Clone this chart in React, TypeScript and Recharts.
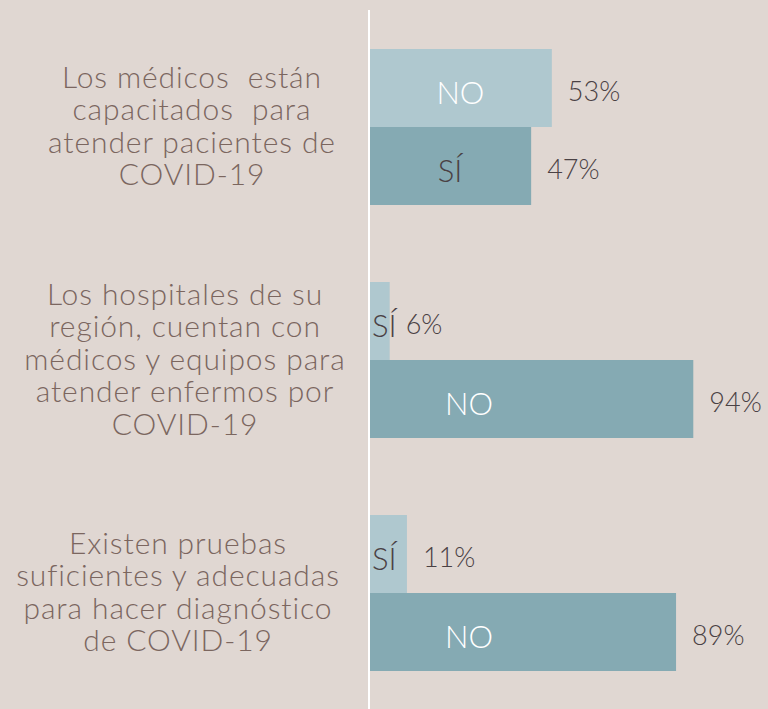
import React from "react";
import { BarChart, Bar, XAxis, YAxis, LabelList } from "recharts";

const categoryLines: string[][] = [
  ["Los médicos  están", "capacitados  para", "atender pacientes de", "COVID-19"],
  ["Los hospitales de su", "región, cuentan con", "médicos y equipos para", "atender enfermos por", "COVID-19"],
  ["Existen pruebas", "suficientes y adecuadas", "para hacer diagnóstico", "de COVID-19"],
];
const categories = ["medicos", "hospitales", "pruebas"];
const topValues = [53, 6, 11];
const bottomValues = [47, 94, 89];
const topNames = ["NO", "SÍ", "SÍ"];
const bottomNames = ["SÍ", "NO", "NO"];

const data = categories.map((c, i) => ({
  cat: c,
  top: topValues[i],
  bottom: bottomValues[i],
  topName: topNames[i],
  bottomName: bottomNames[i],
}));

const BG = "#e0d7d2";
const LIGHT = "#afc8cf";
const DARK = "#85aab3";
const CAT_COLOR = "#7b665f";
const VAL_COLOR = "#4a4144";
const FONT = "Lato, 'Noto Sans', sans-serif";
const LABEL_CENTER_SHIFT = [0, -7, -14];

const CategoryTick = (props: any) => {
  const { y, payload } = props;
  const idx = categories.indexOf(payload.value);
  const lines = categoryLines[idx] || [];
  const lh = 32.5;
  const start = y - ((lines.length - 1) * lh) / 2 - 2;
  const cx = 192 + (LABEL_CENTER_SHIFT[idx] || 0);
  return (
    <g>
      {lines.map((l, k) => (
        <text
          key={k}
          x={cx}
          y={start + k * lh}
          textAnchor="middle"
          dominantBaseline="central"
          fill={CAT_COLOR}
          fontFamily={FONT}
          fontWeight={300}
          fontSize={30}
          letterSpacing={0.9}
          style={{ whiteSpace: "pre" }}
        >
          {l}
        </text>
      ))}
    </g>
  );
};

const InnerLabel = (props: any) => {
  const { x, y, width, height, value } = props;
  const isNo = value === "NO";
  const small = width < 60;
  const tx = small ? x + 3 : x + Math.min(width / 2, 100);
  return (
    <text
      x={tx}
      y={y + height / 2 + 4}
      textAnchor={small ? "start" : "middle"}
      dominantBaseline="central"
      fill={isNo ? "#ffffff" : VAL_COLOR}
      fontFamily={FONT}
      fontWeight={300}
      fontSize={31}
    >
      {value}
    </text>
  );
};

const ValueLabel = (props: any) => {
  const { x, y, width, height, value } = props;
  return (
    <text
      x={x + width + 16}
      y={y + height / 2 + 2}
      textAnchor="start"
      dominantBaseline="central"
      fill={VAL_COLOR}
      fontFamily={FONT}
      fontWeight={300}
      fontSize={27}
    >
      {value}%
    </text>
  );
};

export default function App() {
  return (
    <div style={{ position: "absolute", left: 0, top: 0, width: 768, height: 709, background: BG }}>
      <BarChart
        width={768}
        height={709}
        data={data}
        layout="vertical"
        margin={{ top: 10, right: 54, bottom: 0, left: 0 }}
        barGap={0}
      >
        <XAxis type="number" domain={[0, 100]} hide />
        <YAxis
          type="category"
          dataKey="cat"
          width={369}
          axisLine={{ stroke: "#ffffff", strokeWidth: 2 }}
          tickLine={false}
          tick={<CategoryTick />}
          interval={0}
        />
        <Bar dataKey="top" fill={LIGHT} barSize={78} isAnimationActive={false}>
          <LabelList dataKey="topName" content={<InnerLabel />} />
          <LabelList dataKey="top" content={<ValueLabel />} />
        </Bar>
        <Bar dataKey="bottom" fill={DARK} barSize={78} isAnimationActive={false}>
          <LabelList dataKey="bottomName" content={<InnerLabel />} />
          <LabelList dataKey="bottom" content={<ValueLabel />} />
        </Bar>
      </BarChart>
    </div>
  );
}
